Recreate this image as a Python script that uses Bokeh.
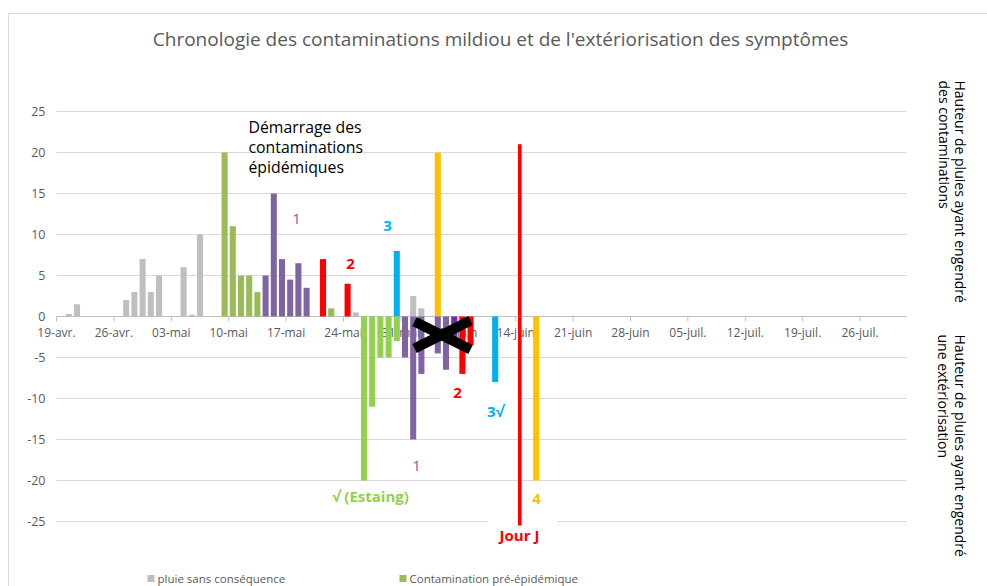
from datetime import date
import math
from bokeh.plotting import figure
from bokeh.models import Range1d, Label, ColumnDataSource
from bokeh.core.properties import value
from bokeh.embed import file_html
from bokeh.resources import INLINE

# ---------------- data ----------------
start_date = "2021-04-19"
end_day = 103.66  # right edge of the plot area, in days after start_date

tick_dates = ["2021-04-19", "2021-04-26", "2021-05-03", "2021-05-10", "2021-05-17",
              "2021-05-24", "2021-05-31", "2021-06-07", "2021-06-14", "2021-06-21",
              "2021-06-28", "2021-07-05", "2021-07-12", "2021-07-19", "2021-07-26"]
tick_labels = ["19-avr.", "26-avr.", "03-mai", "10-mai", "17-mai", "24-mai", "31-mai",
               "07-juin", "14-juin", "21-juin", "28-juin", "05-juil.", "12-juil.",
               "19-juil.", "26-juil."]
y_ticks = [-25, -20, -15, -10, -5, 0, 5, 10, 15, 20, 25]

# rain heights that produced contaminations (positive side)
pluie_dates = ["2021-04-20", "2021-04-21", "2021-04-27", "2021-04-28", "2021-04-29",
               "2021-04-30", "2021-05-01", "2021-05-04", "2021-05-05", "2021-05-06",
               "2021-05-25", "2021-06-01", "2021-06-02"]
pluie_vals = [0.3, 1.5, 2, 3, 7, 3, 5, 6, 0.2, 10, 0.5, 2.5, 1]

pre_epi_dates = ["2021-05-09", "2021-05-10", "2021-05-11", "2021-05-12", "2021-05-13",
                 "2021-05-22"]
pre_epi_vals = [20, 11, 5, 5, 3, 1]

cont1_dates = ["2021-05-14", "2021-05-15", "2021-05-16", "2021-05-17", "2021-05-18",
               "2021-05-19"]
cont1_vals = [5, 15, 7, 4.5, 6.5, 3.5]

cont2_dates = ["2021-05-21", "2021-05-24"]
cont2_vals = [7, 4]

cont3_dates = ["2021-05-30"]
cont3_vals = [8]

cont4_dates = ["2021-06-04"]
cont4_vals = [20]

jourj_dates = ["2021-06-14", "2021-06-14"]
jourj_vals = [21, -25.5]

# rain heights that produced an outbreak of symptoms (negative side)
ext_pre_dates = ["2021-05-26", "2021-05-27", "2021-05-28", "2021-05-29", "2021-05-30"]
ext_pre_vals = [-20, -11, -5, -5, -3]

ext1_dates = ["2021-05-31", "2021-06-01", "2021-06-02", "2021-06-04", "2021-06-05"]
ext1_vals = [-5, -15, -7, -4.5, -6.5]

ext1b_dates = ["2021-06-06"]
ext1b_vals = [-2.5]

ext2_dates = ["2021-06-07", "2021-06-08"]
ext2_vals = [-7, -3.5]

ext3_dates = ["2021-06-11"]
ext3_vals = [-8]

ext4_dates = ["2021-06-16"]
ext4_vals = [-20]

legend_labels = ["pluie sans conséquence", "Contamination pré-épidémique"]

# ---------------- layout ----------------
W_PX, H_PX = 987, 586
X0_PX, Y0_PX = 56, 316      # page position of (day 0, value 0)
PX_DAY, PX_UNIT = 8.2, 8.2

D0 = date.fromisoformat(start_date)


def day_pos(ds, centre=True):
    return [(date.fromisoformat(d) - D0).days + (0.5 if centre else 0.0) for d in ds]


def px_x(px):
    return (px - X0_PX) / PX_DAY


def px_y(py):
    return (Y0_PX - py) / PX_UNIT


FONT = "Open Sans"
GRAY_TXT = "#595959"
GRID = "#D9D9D9"

p = figure(width=W_PX, height=H_PX, output_backend="svg", toolbar_location=None,
           x_range=Range1d(px_x(0), px_x(W_PX)), y_range=Range1d(px_y(H_PX), px_y(0)),
           min_border=0, min_border_left=0, min_border_right=0, min_border_top=0,
           min_border_bottom=0, title=None)
p.outline_line_color = None
p.background_fill_color = "white"
p.border_fill_color = "white"
p.xaxis.visible = False
p.yaxis.visible = False
p.xgrid.visible = False
p.ygrid.visible = False

# chart-area border
p.segment(x0=[px_x(8), px_x(8)], y0=[px_y(13), px_y(13)],
          x1=[px_x(8), px_x(W_PX + 5)], y1=[px_y(H_PX + 5), px_y(13)],
          line_color=GRID, line_width=1)

# horizontal gridlines and value labels
grid_y = [t for t in y_ticks if t != 0]
p.segment(x0=[0] * len(grid_y), y0=grid_y, x1=[end_day] * len(grid_y), y1=grid_y,
          line_color=GRID, line_width=1)
p.text(x=[0] * len(y_ticks), y=y_ticks, text=[str(t) for t in y_ticks], x_offset=-11,
       text_align="right", text_baseline="middle", text_font=value(FONT),
       text_font_size=value("12.5px"), text_color=GRAY_TXT)

# white backgrounds of some data labels (they hide the gridlines)
p.quad(left=[px_x(440), px_x(487)], right=[px_x(517), px_x(557)],
       top=[px_y(388), px_y(518)], bottom=[px_y(404), px_y(550)],
       fill_color="white", line_color=None)

# category axis drawn at zero
tx = day_pos(tick_dates, centre=False)
p.segment(x0=[0], y0=[0], x1=[end_day], y1=[0], line_color="#BFBFBF", line_width=1)
p.segment(x0=tx, y0=[0] * len(tx), x1=tx, y1=[-0.6] * len(tx), line_color="#BFBFBF",
          line_width=1)
p.text(x=tx, y=[0] * len(tx), text=tick_labels, y_offset=7, text_align="center",
       text_baseline="top", text_font=value(FONT), text_font_size=value("12px"),
       text_color=GRAY_TXT)

# bars
W = 0.74
series = [
    (pluie_dates, pluie_vals, "#BFBFBF", W),
    (pre_epi_dates, pre_epi_vals, "#9BBB59", W),
    (cont1_dates, cont1_vals, "#8064A2", W),
    (cont2_dates, cont2_vals, "#FF0000", W),
    (cont3_dates, cont3_vals, "#00B0F0", W),
    (cont4_dates, cont4_vals, "#FFC000", W),
    (ext_pre_dates, ext_pre_vals, "#92D050", W),
    (ext1_dates, ext1_vals, "#8064A2", W),
    (ext1b_dates, ext1b_vals, "#7030A0", W),
    (ext2_dates, ext2_vals, "#FF0000", W),
    (ext3_dates, ext3_vals, "#00B0F0", W),
    (ext4_dates, ext4_vals, "#FFC000", W),
    (jourj_dates, jourj_vals, "#FF0000", 0.45),
]
for ds, vals, col, w in series:
    src = ColumnDataSource(dict(x=day_pos(ds), top=vals))
    p.vbar(x="x", top="top", bottom=0, width=w, source=src, fill_color=col, line_color=None)

# crossed-out mark
p.segment(x0=[px_x(414), px_x(414)], y0=[px_y(321), px_y(348)],
          x1=[px_x(470), px_x(470)], y1=[px_y(349), px_y(320)],
          line_color="black", line_width=10)


def lab(px, py, text, color, size="15px", bold=False, align="center", baseline="middle",
        angle=0.0):
    p.add_layout(Label(x=px_x(px), y=px_y(py), text=text, text_color=color,
                       text_font=FONT, text_font_size=size,
                       text_font_style="bold" if bold else "normal",
                       text_align=align, text_baseline=baseline, angle=angle))


# title
lab(500, 38, "Chronologie des contaminations mildiou et de l'extériorisation des symptômes",
    GRAY_TXT, size="19px")

# annotations
lab(248, 115, "Démarrage des", "black", size="15.8px", align="left", baseline="top")
lab(248, 135, "contaminations", "black", size="15.8px", align="left", baseline="top")
lab(248, 155, "épidémiques", "black", size="15.8px", align="left", baseline="top")
lab(296, 218, "1", "#7F5FB5", size="15px")
lab(350, 263, "2", "#FF0000", size="15px", bold=True)
lab(387, 225, "3", "#00B0F0", size="15px", bold=True)
lab(370, 495, "√ (Estaing)", "#92D050", size="15px", bold=True)
lab(416, 465, "1", "#7F5FB5", size="15px")
lab(457, 392, "2", "#FF0000", size="15px", bold=True)
lab(495, 410, "3√", "#00B0F0", size="15px", bold=True)
lab(536, 498, "4", "#FFC000", size="15px", bold=True)
lab(519, 534, "Jour J", "#FF0000", size="15px", bold=True)

# right-hand rotated titles
ang = -math.pi / 2
lab(960, 80, "Hauteur de pluies ayant engendré", "black", size="14px", align="left", angle=ang)
lab(944, 80, "des contaminations", "black", size="14px", align="left", angle=ang)
lab(960, 334, "Hauteur de pluies ayant engendré", "black", size="14px", align="left", angle=ang)
lab(943, 334, "une extériorisation", "black", size="14px", align="left", angle=ang)

# legend (at the bottom edge)
p.scatter(x=[px_x(150.5), px_x(402.5)], y=[px_y(578), px_y(578)], marker="square", size=7,
          fill_color=["#BFBFBF", "#9BBB59"], line_color=None)
lab(157, 578, legend_labels[0], GRAY_TXT, size="11.5px", align="left")
lab(409, 578, legend_labels[1], GRAY_TXT, size="11.5px", align="left")

open("out.html", "w").write(file_html(p, INLINE))
